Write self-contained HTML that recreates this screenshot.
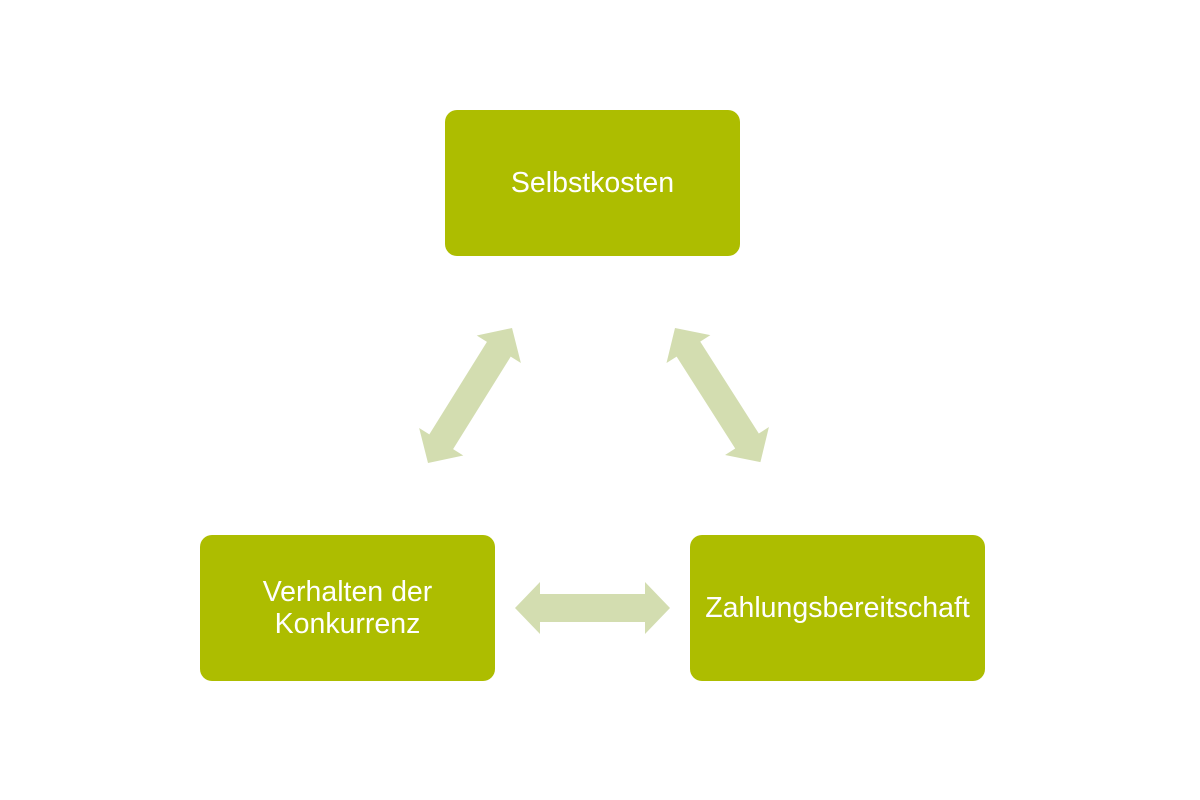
<!DOCTYPE html>
<html><head><meta charset="utf-8"><style>
html,body{margin:0;padding:0;background:#fff;}
.box{position:absolute;width:295px;height:146px;background:#adbd00;border-radius:12px;color:#fff;font-family:"Liberation Sans",sans-serif;font-size:28.5px;display:flex;align-items:center;justify-content:center;text-align:center;line-height:32px;}
</style></head><body>
<div style="position:relative;width:1200px;height:800px;overflow:hidden;">
<svg width="1200" height="800" style="position:absolute;left:0;top:0">
<defs>
<polygon id="ar" points="0,0 25,-26 25,-14 134,-14 134,-26 159,0 134,26 134,14 25,14 25,26" fill="#d3ddb0"/>
<polygon id="ah" points="0,0 25,-26 25,-14 130,-14 130,-26 155,0 130,26 130,14 25,14 25,26" fill="#d3ddb0"/>
</defs>
<use href="#ah" x="515" y="608"/>
<use href="#ar" transform="translate(428,463) rotate(-58.1)"/>
<use href="#ar" transform="translate(675,328) rotate(57.5)"/>
</svg>
<div class="box" style="left:445px;top:110px;">Selbstkosten</div>
<div class="box" style="left:200px;top:535px;">Verhalten der<br>Konkurrenz</div>
<div class="box" style="left:690px;top:535px;">Zahlungsbereitschaft</div>
</div>
</body></html>
